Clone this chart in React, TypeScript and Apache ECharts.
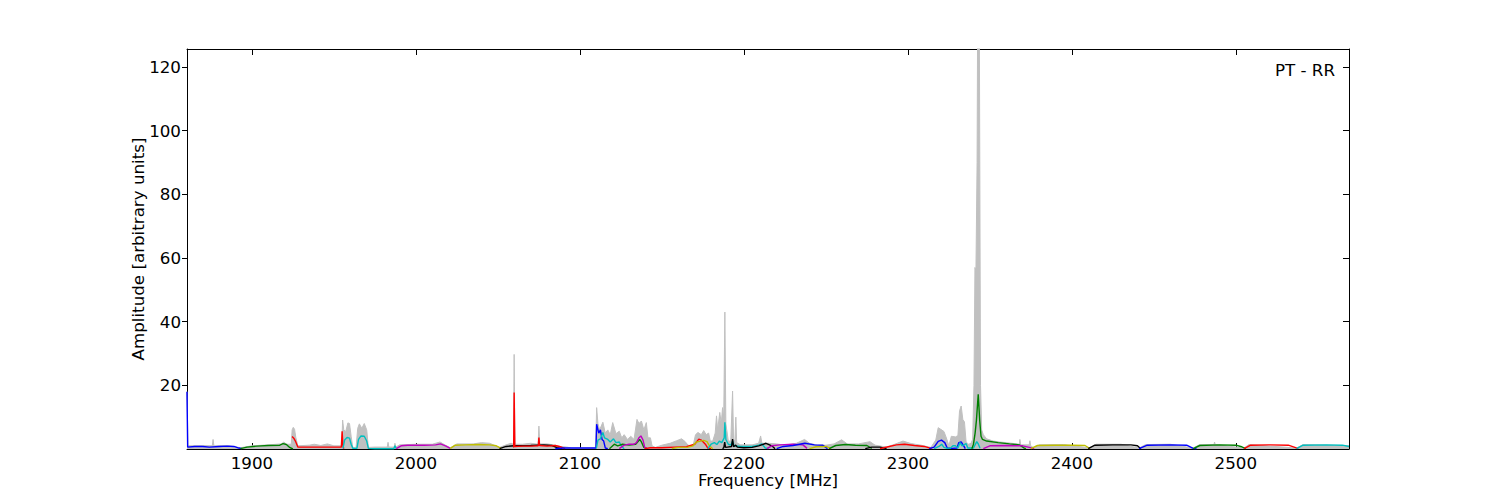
import React, { useEffect, useRef } from "react";
import * as echarts from "echarts";

// ---- axis ticks ----
const xTicks = [1900, 2000, 2100, 2200, 2300, 2400, 2500];
const yTicks = [20, 40, 60, 80, 100, 120];
const xMin = 1860.4;
const xMax = 2569;
const yMin = 0;
const yMax = 125.6;
const panelTitle = "PT - RR";

// ---- grey full spectrum [MHz, amplitude] ----
const greySpectrum = [
  [1860.4, 18], [1861, 1], [1870, 1.1], [1875.8, 1.0], [1876.3, 3.0], [1876.8, 1.0], [1885, 1.1], [1893, 0.4],
  [1900, 1.0], [1910, 1.3], [1918, 1.6], [1919.5, 2.2], [1921, 1.5], [1924, 1.5], [1924.5, 6.0], [1925.2, 6.8],
  [1926, 6.2], [1926.8, 3.5], [1928, 1.0], [1935, 1.2], [1938, 1.5], [1942, 1.1], [1946, 1.6], [1950, 1.0],
  [1954.8, 1.0], [1955.3, 9.1], [1956, 6], [1957.2, 5.5], [1958.5, 8.2], [1959.5, 8.0], [1960.5, 4], [1961.5, 0.5],
  [1963.5, 0.5], [1964.5, 6.5], [1965.5, 7.9], [1967, 6.5], [1968.5, 8.0], [1970, 6], [1971, 0.5], [1975, 0.6],
  [1982.5, 0.6], [1983, 2.1], [1983.5, 0.6], [1986.8, 0.6], [1987.2, 1.8], [1987.8, 0.6], [1990, 1.3], [2000, 1.5],
  [2010, 1.5], [2014.7, 2.2], [2018, 1.2], [2021, 0.4], [2025, 1.6], [2035, 1.6], [2040, 2.0], [2045, 1.8],
  [2051, 0.5], [2055, 1.3], [2058, 1.8], [2059.5, 1.5], [2059.9, 29.7], [2060.4, 1.5], [2065, 1.5], [2070, 1.8],
  [2074.5, 1.5], [2075, 7.2], [2075.5, 1.6], [2080, 1.6], [2085, 1.2], [2088, 0.8], [2092, 0.6], [2095, 0.3],
  [2109.6, 0.3], [2110.2, 13.0], [2111, 8], [2112, 6], [2114, 8.4], [2115.5, 5], [2117, 6], [2118.5, 4.5],
  [2120, 8.3], [2122, 4.8], [2124, 5.6], [2125.5, 3.5], [2127, 4.5], [2129, 3], [2131, 4], [2133, 3],
  [2134.8, 9.3], [2136, 8], [2137.5, 8.8], [2139, 6], [2140.5, 8.3], [2141.5, 3.5], [2143, 3.5], [2144, 1.0],
  [2146, 0.5], [2150, 1.2], [2155, 1.8], [2159, 2.6], [2162, 3.2], [2164, 2.4], [2166, 1.2], [2169, 1.0],
  [2170.5, 4.5], [2172, 5.2], [2174, 4.5], [2175.5, 5.8], [2177, 4.5], [2178.5, 5], [2179.5, 2.5], [2181, 2.5],
  [2182.5, 5], [2183.3, 10.4], [2184, 6], [2185.3, 11.5], [2186.2, 8], [2187, 13], [2187.7, 10], [2188.4, 43],
  [2189, 8], [2190.5, 2.5], [2192, 2.5], [2193.1, 18.2], [2193.7, 3], [2194.5, 2.5], [2195.1, 10], [2195.6, 2],
  [2198, 1.3], [2205, 1.3], [2209, 1.8], [2210.2, 4.1], [2211, 1.8], [2215, 1.8], [2220, 1.6], [2225, 1.2],
  [2232, 1.8], [2237, 3.0], [2240, 1.8], [2245, 1.2], [2250, 1.2], [2255, 1.6], [2259.6, 2.9], [2263, 1.6],
  [2270, 1.6], [2276.9, 2.3], [2280, 1.2], [2287, 0.6], [2292, 1.5], [2297, 2.5], [2302, 1.7], [2308, 1.2],
  [2314, 0.5], [2317, 2.8], [2318.5, 6.7], [2320, 6.2], [2322, 5.5], [2323.8, 3], [2325, 1.0], [2326.5, 4],
  [2329, 3.8], [2330.5, 4.2], [2331.5, 12], [2332.5, 13.5], [2333.5, 9.3], [2334.5, 8.5], [2335.5, 2.2], [2337, 1.5],
  [2338.5, 1.8], [2339.5, 3], [2340.3, 20], [2340.9, 57], [2341.5, 56], [2342.2, 90], [2342.5, 130], [2343.6, 130],
  [2344.3, 20], [2345, 6], [2346, 4.5], [2348, 3.2], [2352, 2.5], [2356, 2.2], [2360, 2.0], [2365, 1.7],
  [2368, 1.5], [2368.3, 3], [2368.8, 1.3], [2374, 1.3], [2374.4, 2.6], [2374.9, 1.0], [2377, 0.3], [2380, 1.3],
  [2395, 1.4], [2411, 0.3], [2415, 1.5], [2430, 1.5], [2441, 0.3], [2445, 1.4], [2460, 1.5], [2474, 0.3],
  [2478, 1.4], [2486.7, 1.4], [2487, 2.2], [2487.4, 1.4], [2505, 0.3], [2508, 1.4], [2537, 0.3], [2541, 1.4],
  [2569, 1.0],
];

// ---- coloured sub-bands [MHz, amplitude] ----
const blue1 = [[1860.4, 18], [1860.8, 0.6], [1865, 0.8], [1870, 0.8], [1874, 0.6], [1880, 0.8], [1885, 0.9], [1889, 0.8], [1892, 0.3], [1894, 0.1]];
const green1 = [[1893, 0.1], [1897, 0.6], [1903, 0.9], [1910, 1.1], [1917, 1.2], [1919, 1.7], [1921, 1.4], [1923, 0.5], [1925, 0]];
const red1 = [[1924.5, 3.9], [1925.5, 3.4], [1926.5, 2.5], [1928, 0.6], [1935, 0.6], [1945, 0.6], [1954.5, 0.6], [1955, 5.6], [1955.5, 1], [1956, 0.1]];
const cyan1 = [[1955.5, 0.2], [1956.5, 2.8], [1958, 3.6], [1959.5, 3.4], [1960.5, 1.5], [1961.5, 0.2], [1964, 0.2], [1965, 3], [1966.5, 4.1], [1968.5, 4.0], [1970, 2.5], [1971, 0.2], [1975, 0.1], [1986.5, 0.1], [1987.2, 1.0], [1988, 0.1]];
const magenta1 = [[1988, 0.1], [1991, 1.0], [1995, 1.2], [2005, 1.2], [2012, 1.3], [2015, 1.6], [2018, 1.0], [2021, 0.2]];
const yellow1 = [[2021, 0.2], [2024, 1.2], [2030, 1.3], [2038, 1.4], [2045, 1.3], [2049, 1.0], [2052, 0.2]];
const black1 = [[2051, 0.1], [2055, 0.8], [2060, 1.0], [2070, 1.1], [2078, 1.3], [2083, 1.1], [2086, 0.4], [2089, 0.1]];
const red2 = [[2059.6, 0.5], [2059.9, 17.7], [2060.3, 0.8], [2065, 0.9], [2070, 0.9], [2074.6, 1.0], [2075, 3.6], [2075.4, 1.1], [2080, 0.9], [2085, 1.1], [2088, 0.7], [2091, 0.1]];
const blue2 = [[2085, 0.1], [2090, 0.3], [2100, 0.3], [2109.8, 0.3], [2110.2, 7.8], [2111.5, 5], [2112.5, 6], [2113.5, 3], [2114.5, 2.5], [2115.5, 0.3], [2117, 0.1]];
const cyan2 = [[2110, 0.2], [2111, 2.8], [2112.5, 3.2], [2114, 5.2], [2115, 3.5], [2117, 3.0], [2118.5, 2.2], [2120.5, 3.2], [2122, 2.0], [2124, 2.2], [2125.5, 0.8], [2127, 0.1]];
const green2 = [[2118, 0.1], [2121, 1.5], [2123, 1.0], [2126, 1.5], [2130, 1.2], [2134, 1.5], [2136.5, 3.0], [2137.5, 2.2], [2139, 0.5], [2141, 0.1]];
const magenta2 = [[2124, 0.1], [2127, 1.2], [2130, 1.5], [2133, 1.5], [2134.5, 2.0], [2136, 3.5], [2137.2, 4.1], [2138.5, 2.8], [2139.5, 0.5], [2141, 0.1]];
const red3 = [[2139.5, 0.1], [2143, 0.4], [2150, 0.4], [2158, 0.6], [2165, 0.7], [2170, 1.5], [2172.5, 3.1], [2174, 2.8], [2176.5, 1.5], [2178, 0.3], [2180, 0.1]];
const yellow2 = [[2156, 0.1], [2160, 0.5], [2166, 0.6], [2169, 1.0], [2171, 2.2], [2173, 2.4], [2175.5, 2.7], [2177.5, 2.3], [2179, 1.0], [2181, 0.1]];
const cyan3 = [[2178, 0.1], [2180, 1.5], [2182, 2.0], [2183.5, 1.4], [2185, 2.5], [2186.5, 2.0], [2188, 3.5], [2188.4, 8.4], [2189, 3], [2190.5, 1.5], [2192, 1.2], [2193.1, 2.5], [2194, 1], [2198, 0.8], [2205, 0.8], [2209, 1.2], [2211, 1.6], [2213, 0.3], [2215, 0.1]];
const black2 = [[2187, 0.1], [2187.8, 0.5], [2188.3, 2.2], [2188.8, 0.5], [2190, 0.6], [2192.5, 0.8], [2193.1, 3.1], [2193.7, 0.7], [2195, 1.2], [2196, 0.6], [2200, 0.4], [2205, 0.5], [2209, 1.0], [2213.5, 1.8], [2217, 1.0], [2219, 0.1]];
const magenta3 = [[2214, 0.1], [2217, 1.0], [2222, 1.3], [2230, 1.5], [2236, 1.3], [2238.5, 0.2]];
const blue3 = [[2220, 0.1], [2224, 0.8], [2230, 1.1], [2237.2, 1.8], [2243, 1.3], [2248, 1.2], [2251, 0.1]];
const yellow3 = [[2240, 0.1], [2244, 0.7], [2250, 0.8], [2253, 0.1]];
const green3 = [[2252, 0.1], [2256, 1.1], [2262, 1.4], [2268, 1.2], [2275, 1.1], [2278, 0.2]];
const black3 = [[2274, 0.1], [2278, 0.6], [2283, 0.6], [2287, 0.1]];
const red4 = [[2283, 0.1], [2288, 0.7], [2293, 1.3], [2298, 1.5], [2304, 1.1], [2310, 0.8], [2314.5, 0.1]];
const blue4 = [[2313, 0.1], [2316, 0.6], [2318.5, 2.4], [2320.5, 2.8], [2322.5, 2.0], [2324, 0.3], [2327, 0.2], [2330, 0.3], [2331, 2.0], [2332.5, 2.2], [2333.8, 1.2], [2335, 0.1]];
const cyan4 = [[2316, 0.1], [2319, 0.8], [2320.6, 1.5], [2322, 0.5], [2324, 0.2], [2326, 0.3], [2327.5, 1.0], [2329, 1.0], [2330.5, 0.3], [2331.8, 2.0], [2333, 1.0], [2335.5, 1.7], [2336.5, 0.3], [2340, 0.3], [2342, 2.3], [2343, 1.5], [2344, 0.2]];
const green4 = [[2339, 0.1], [2340, 1.5], [2341, 5], [2341.8, 9], [2342.9, 17.2], [2343.8, 9], [2344.6, 4], [2345.5, 3], [2348, 2.5], [2355, 2.0], [2362, 1.6], [2368, 1.3], [2371, 0.3], [2372, 0.1]];
const magenta4 = [[2346, 0.1], [2350, 1.0], [2360, 1.1], [2370, 1.0], [2374, 0.5], [2377, 0.1]];
const yellow4 = [[2375, 0.1], [2379, 1.1], [2390, 1.2], [2400, 1.2], [2408, 1.1], [2411, 0.1]];
const black4 = [[2410, 0.1], [2414, 1.2], [2425, 1.3], [2436, 1.3], [2440, 1.0], [2442, 0.1]];
const blue5 = [[2441, 0.1], [2446, 1.2], [2460, 1.3], [2470, 1.2], [2474, 0.2], [2476, 0.1]];
const green5 = [[2474, 0.1], [2478, 1.1], [2490, 1.3], [2500, 1.2], [2503, 0.8], [2506, 0.1]];
const red5 = [[2505, 0.1], [2509, 1.2], [2520, 1.3], [2532, 1.2], [2536, 0.5], [2538, 0.1]];
const cyan5 = [[2537, 0.1], [2541, 1.2], [2555, 1.3], [2565, 1.2], [2569, 0.8]];

const palette: Record<string, string> = {
  b: "#0000ff",
  g: "#008000",
  r: "#ff0000",
  c: "#00bfbf",
  m: "#bf00bf",
  y: "#bfbf00",
  k: "#000000",
};

const bands: [number[][], string][] = [
  [blue1, "b"], [green1, "g"], [red1, "r"], [cyan1, "c"], [magenta1, "m"], [yellow1, "y"], [black1, "k"],
  [red2, "r"], [blue2, "b"], [cyan2, "c"], [green2, "g"], [magenta2, "m"], [red3, "r"], [yellow2, "y"],
  [cyan3, "c"], [black2, "k"], [magenta3, "m"], [blue3, "b"], [yellow3, "y"], [green3, "g"], [black3, "k"],
  [red4, "r"], [blue4, "b"], [cyan4, "c"], [green4, "g"], [magenta4, "m"], [yellow4, "y"], [black4, "k"],
  [blue5, "b"], [green5, "g"], [red5, "r"], [cyan5, "c"],
];

const FONT = "DejaVu Sans";
const FS = 16.7;

export default function App() {
  const ref = useRef<HTMLDivElement>(null);
  useEffect(() => {
    if (!ref.current) return;
    const chart = echarts.init(ref.current, null, { renderer: "svg" });
    const grey = "#c0c0c0";
    const series: any[] = [
      {
        type: "line",
        data: greySpectrum,
        showSymbol: false,
        symbol: "none",
        lineStyle: { color: grey, width: 1 },
        areaStyle: { color: grey, opacity: 1 },
        z: 1,
        silent: true,
      },
      ...bands.map(([d, c], i) => ({
        type: "line",
        data: d,
        showSymbol: false,
        symbol: "none",
        lineStyle: { color: palette[c], width: 1.4 },
        z: 2 + i,
        silent: true,
      })),
    ];
    const labelStyle = { fontFamily: FONT, fontSize: FS, color: "#000" };
    chart.setOption({
      animation: false,
      backgroundColor: "#fff",
      grid: { left: 187, right: 151, top: 49, bottom: 51, show: false },
      xAxis: [
        {
          type: "value",
          position: "bottom",
          min: xMin,
          max: xMax,
          minInterval: 100,
          maxInterval: 100,
          name: "Frequency [MHz]",
          nameLocation: "middle",
          nameGap: 22,
          nameMoveOverlap: false,
          nameTextStyle: labelStyle,
          axisLine: { show: true, onZero: false, lineStyle: { color: "#000", width: 1 } },
          axisTick: { show: true, inside: true, length: 6, customValues: xTicks, lineStyle: { color: "#000" } },
          axisLabel: {
            ...labelStyle,
            margin: 5,
            customValues: xTicks,
            formatter: (v: number) => (xTicks.includes(v) ? String(v) : ""),
          },
          splitLine: { show: false },
        },
        {
          type: "value",
          position: "top",
          min: xMin,
          max: xMax,
          minInterval: 100,
          maxInterval: 100,
          axisLine: { show: true, onZero: false, lineStyle: { color: "#000", width: 1 } },
          axisTick: { show: true, inside: true, length: 6, customValues: xTicks, lineStyle: { color: "#000" } },
          axisLabel: { show: false },
          splitLine: { show: false },
        },
      ],
      yAxis: [
        {
          type: "value",
          position: "left",
          min: yMin,
          max: yMax,
          minInterval: 20,
          maxInterval: 20,
          name: "Amplitude [arbitrary units]",
          nameLocation: "middle",
          nameGap: 41,
          nameMoveOverlap: false,
          nameTextStyle: labelStyle,
          axisLine: { show: true, onZero: false, lineStyle: { color: "#000", width: 1 } },
          axisTick: { show: true, inside: false, length: 5, customValues: yTicks, lineStyle: { color: "#000" } },
          axisLabel: {
            ...labelStyle,
            margin: 6,
            customValues: yTicks,
            formatter: (v: number) => (yTicks.includes(v) ? String(v) : ""),
          },
          splitLine: { show: false },
        },
        {
          type: "value",
          position: "right",
          min: yMin,
          max: yMax,
          minInterval: 20,
          maxInterval: 20,
          axisLine: { show: true, onZero: false, lineStyle: { color: "#000", width: 1 } },
          axisTick: { show: true, inside: true, length: 6, customValues: yTicks, lineStyle: { color: "#000" } },
          axisLabel: { show: false },
          splitLine: { show: false },
        },
      ],
      graphic: [
        {
          type: "text",
          right: 165,
          top: 61,
          style: { text: panelTitle, font: `${FS}px "${FONT}"`, fill: "#000" },
          z: 100,
        },
      ],
      series,
    });
    return () => chart.dispose();
  }, []);
  return (
    <div
      ref={ref}
      style={{ position: "fixed", left: 0, top: 0, width: 1500, height: 500, background: "#fff" }}
    />
  );
}
